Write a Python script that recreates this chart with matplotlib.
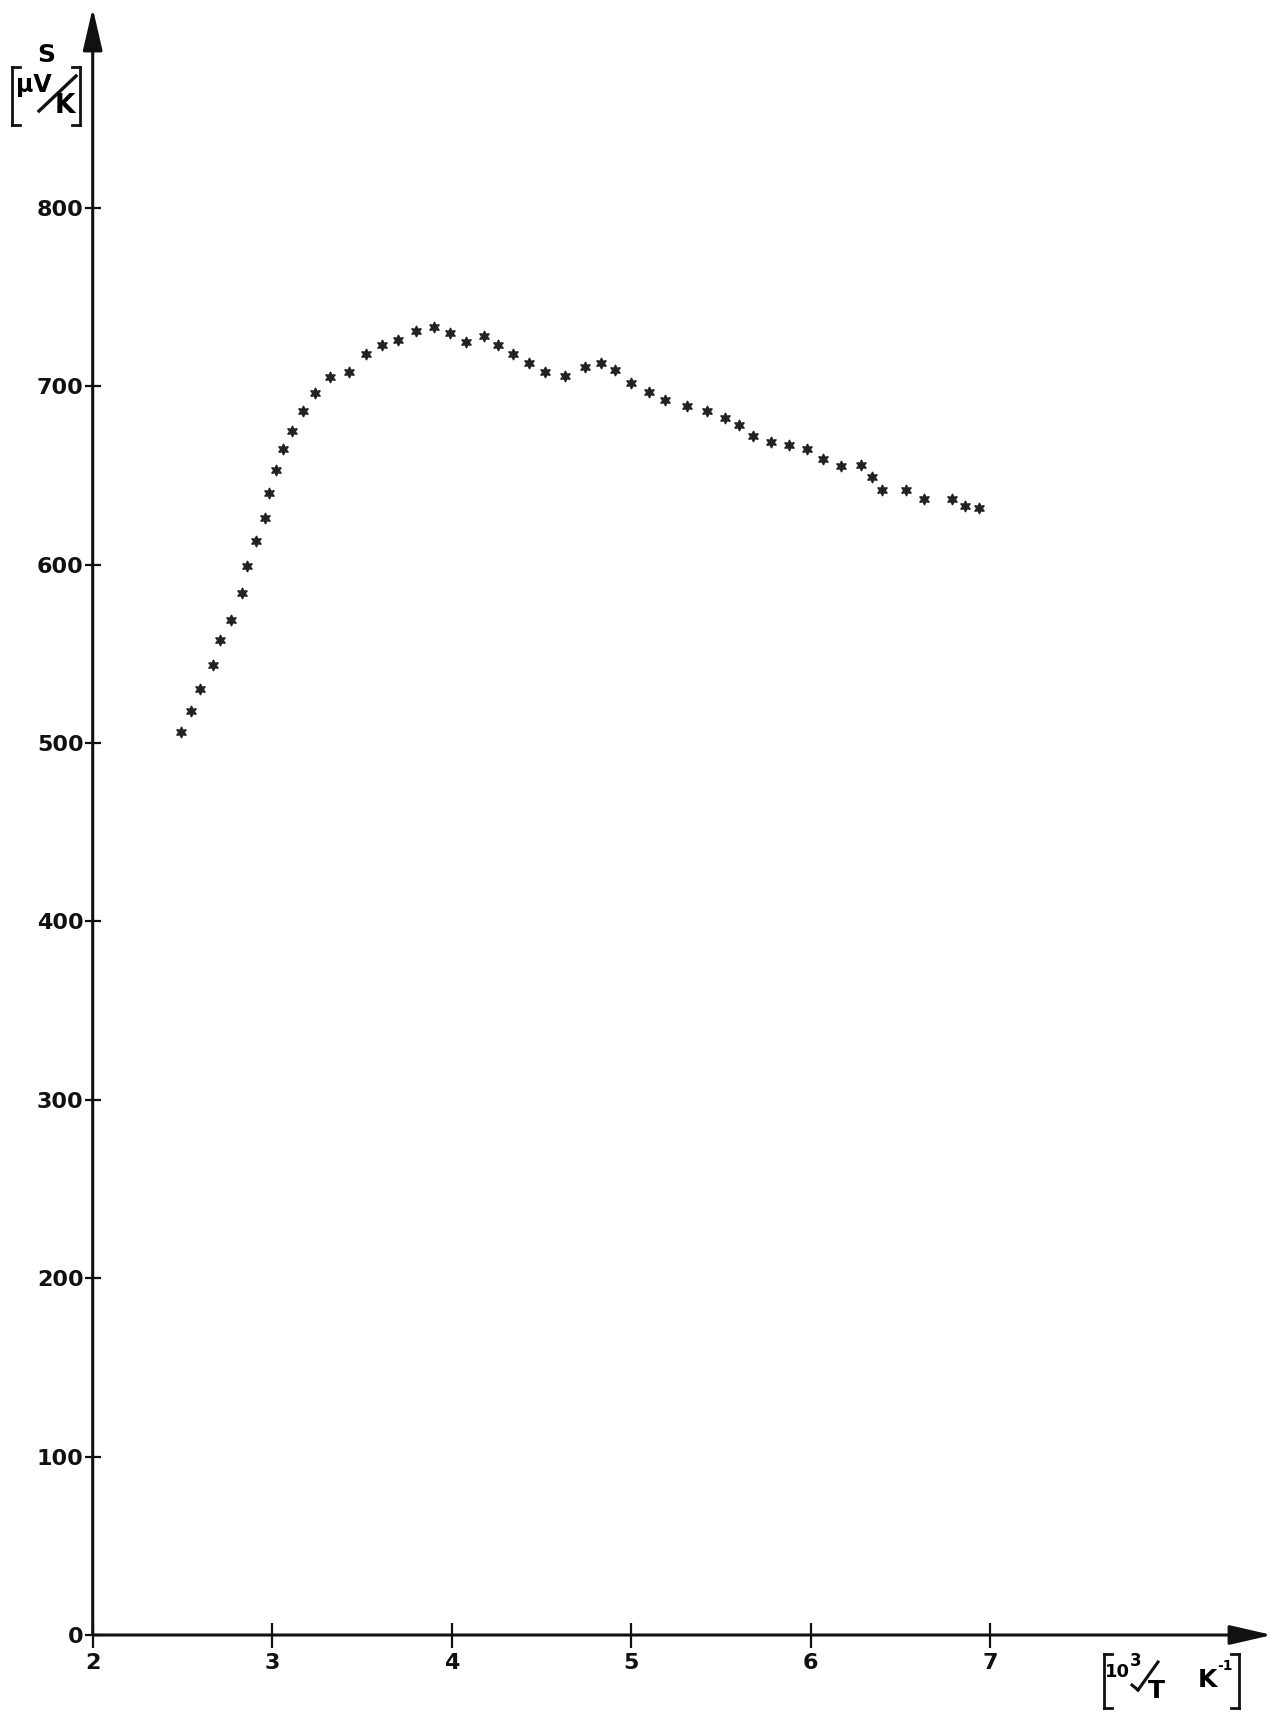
import numpy as np
import matplotlib
matplotlib.use("Agg")
import matplotlib.pyplot as plt
from matplotlib.lines import Line2D

# Werte (10^3/T in 1/K, S in µV/K)
inv_t = [2.49, 2.55, 2.60, 2.67, 2.71, 2.77, 2.83, 2.86, 2.91, 2.96,
         2.98, 3.02, 3.06, 3.11, 3.17, 3.24, 3.32, 3.43, 3.52, 3.61,
         3.70, 3.80, 3.90, 3.99, 4.08, 4.18, 4.26, 4.34, 4.43, 4.52,
         4.63, 4.74, 4.83, 4.91, 5.00, 5.10, 5.19, 5.31, 5.42, 5.52,
         5.60, 5.68, 5.78, 5.88, 5.98, 6.07, 6.17, 6.28, 6.34, 6.40,
         6.53, 6.63, 6.79, 6.86, 6.94]
seebeck = [506, 518, 530, 544, 558, 569, 584, 599, 613, 626,
           640, 653, 665, 675, 686, 696, 705, 708, 718, 723,
           726, 731, 733, 730, 725, 728, 723, 718, 713, 708,
           706, 711, 713, 709, 702, 697, 692, 689, 686, 682,
           678, 672, 669, 667, 665, 659, 655, 656, 649, 642,
           642, 637, 637, 633, 632]

xticks = [2, 3, 4, 5, 6, 7]
yticks = [0, 100, 200, 300, 400, 500, 600, 700, 800]

W, H = 1281, 1713
fig = plt.figure(figsize=(W / 100, H / 100), dpi=100)
ax = fig.add_axes([92.7 / W, 78 / H, (1272 - 92.7) / W, (1635 - 8) / H])
ax.set_xlim(2, 8.57)
ax.set_ylim(0, 912)

for s in ax.spines.values():
    s.set_visible(False)

# Achsen als Pfeile
ax.annotate("", xy=(1, 0), xytext=(0, 0), xycoords="axes fraction",
            arrowprops=dict(arrowstyle="-|>,head_length=2.6,head_width=0.6",
                            lw=2.2, color="#111111", shrinkA=0, shrinkB=0))
ax.annotate("", xy=(0, 1), xytext=(0, 0), xycoords="axes fraction",
            arrowprops=dict(arrowstyle="-|>,head_length=2.6,head_width=0.6",
                            lw=2.2, color="#111111", shrinkA=0, shrinkB=0))

ax.plot(inv_t, seebeck, linestyle="none", marker=(6, 1, 0), markersize=8,
        color="#222222", markeredgewidth=0.9)

ax.set_xticks(xticks)
ax.set_xticklabels([str(v) for v in xticks])
ax.set_yticks(yticks)
ax.set_yticklabels([str(v) for v in yticks])
ax.tick_params(axis="x", direction="inout", length=18, width=1.6, pad=4,
               labelsize=16, colors="#111111")
ax.tick_params(axis="y", direction="inout", length=11, width=1.6, pad=1,
               labelsize=16, colors="#111111")
for lab in ax.get_xticklabels() + ax.get_yticklabels():
    lab.set_fontweight("bold")


def px(x, y):
    return x / W, 1 - y / H


def seg(x0, y0, x1, y1, lw=2.0):
    a, b = px(x0, y0)
    c, d = px(x1, y1)
    fig.add_artist(Line2D([a, c], [b, d], transform=fig.transFigure,
                          color="#111111", lw=lw))


# Beschriftung der y-Achse: S [µV/K]
fig.text(*px(46, 55), "S", ha="center", va="center", fontsize=18, fontweight="bold")
seg(12, 67, 12, 125)
seg(12, 67, 20, 67)
seg(12, 125, 20, 125)
seg(80, 67, 80, 125)
seg(80, 67, 72, 67)
seg(80, 125, 72, 125)
fig.text(*px(34, 85), "µV", ha="center", va="center", fontsize=17, fontweight="bold")
seg(39, 111, 76, 76, lw=2.4)
fig.text(*px(65, 106), "K", ha="center", va="center", fontsize=19, fontweight="bold")

# Beschriftung der x-Achse: [10^3/T  K^-1]
seg(1104, 1654, 1104, 1708)
seg(1104, 1654, 1112, 1654)
seg(1104, 1708, 1112, 1708)
seg(1239, 1654, 1239, 1708)
seg(1239, 1654, 1231, 1654)
seg(1239, 1708, 1231, 1708)
fig.text(*px(1117, 1672), "10", ha="center", va="center", fontsize=13, fontweight="bold")
fig.text(*px(1136, 1661), "3", ha="center", va="center", fontsize=12, fontweight="bold")
seg(1132, 1685, 1138, 1690, lw=2.2)
seg(1138, 1690, 1158, 1662, lw=2.2)
fig.text(*px(1156, 1691), "T", ha="center", va="center", fontsize=18, fontweight="bold")
fig.text(*px(1207, 1680), "K", ha="center", va="center", fontsize=18, fontweight="bold")
fig.text(*px(1225, 1666), "-1", ha="center", va="center", fontsize=10, fontweight="bold")

fig.savefig("out.png", dpi=100, facecolor="white")
